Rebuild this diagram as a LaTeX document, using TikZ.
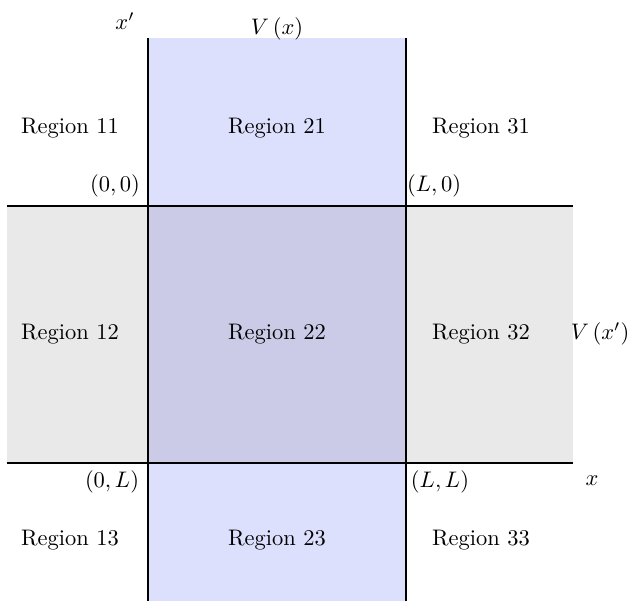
\documentclass[tikz,border=0pt]{standalone}
\begin{document}
\begin{tikzpicture}[x=0.445pt,y=-0.445pt,
  lbl/.style={inner sep=0pt, anchor=center},
  axis/.style={black, line width=0.9pt}]
\useasboundingbox (0,0) rectangle (629,601);
\definecolor{bandblue}{RGB}{221,224,253}
\definecolor{bandgray}{RGB}{233,233,233}
\definecolor{bandboth}{RGB}{203,203,232}
% coordinates
\coordinate (vlt) at (148,38);
\coordinate (vlb) at (148,601);
\coordinate (vrt) at (406,38);
\coordinate (vrb) at (406,601);
\coordinate (htl) at (7,206);
\coordinate (htr) at (573,206);
\coordinate (hbl) at (7,463);
\coordinate (hbr) at (573,463);
% fills
\fill[bandgray] (7,206) rectangle (573,463);
\fill[bandblue] (148,38) rectangle (406,601);
\fill[bandboth] (148,206) rectangle (406,463);
% lines
\draw[axis] (vlt) -- (vlb);
\draw[axis] (vrt) -- (vrb);
\draw[axis] (htl) -- (htr);
\draw[axis] (hbl) -- (hbr);
% labels
\node[lbl] (xp) at (125,21) {$x'$};
\node[lbl] (vx) at (277,29) {$V\,(x)$};
\node[lbl] (vxp) at (600,334) {$V\,(x')$};
\node[lbl] (xl) at (592,481) {$x$};
\node[lbl] (o00) at (115,186) {$(0,0)$};
\node[lbl] (oL0) at (434,186) {$(L,0)$};
\node[lbl] (o0L) at (112,482) {$(0,L)$};
\node[lbl] (oLL) at (440,482) {$(L,L)$};
\node[lbl] (r11) at (70,128) {Region 11};
\node[lbl] (r21) at (277,128) {Region 21};
\node[lbl] (r31) at (481,128) {Region 31};
\node[lbl] (r12) at (70,334) {Region 12};
\node[lbl] (r22) at (277,334) {Region 22};
\node[lbl] (r32) at (481,334) {Region 32};
\node[lbl] (r13) at (70,540) {Region 13};
\node[lbl] (r23) at (277,540) {Region 23};
\node[lbl] (r33) at (481,540) {Region 33};
\end{tikzpicture}
\end{document}
